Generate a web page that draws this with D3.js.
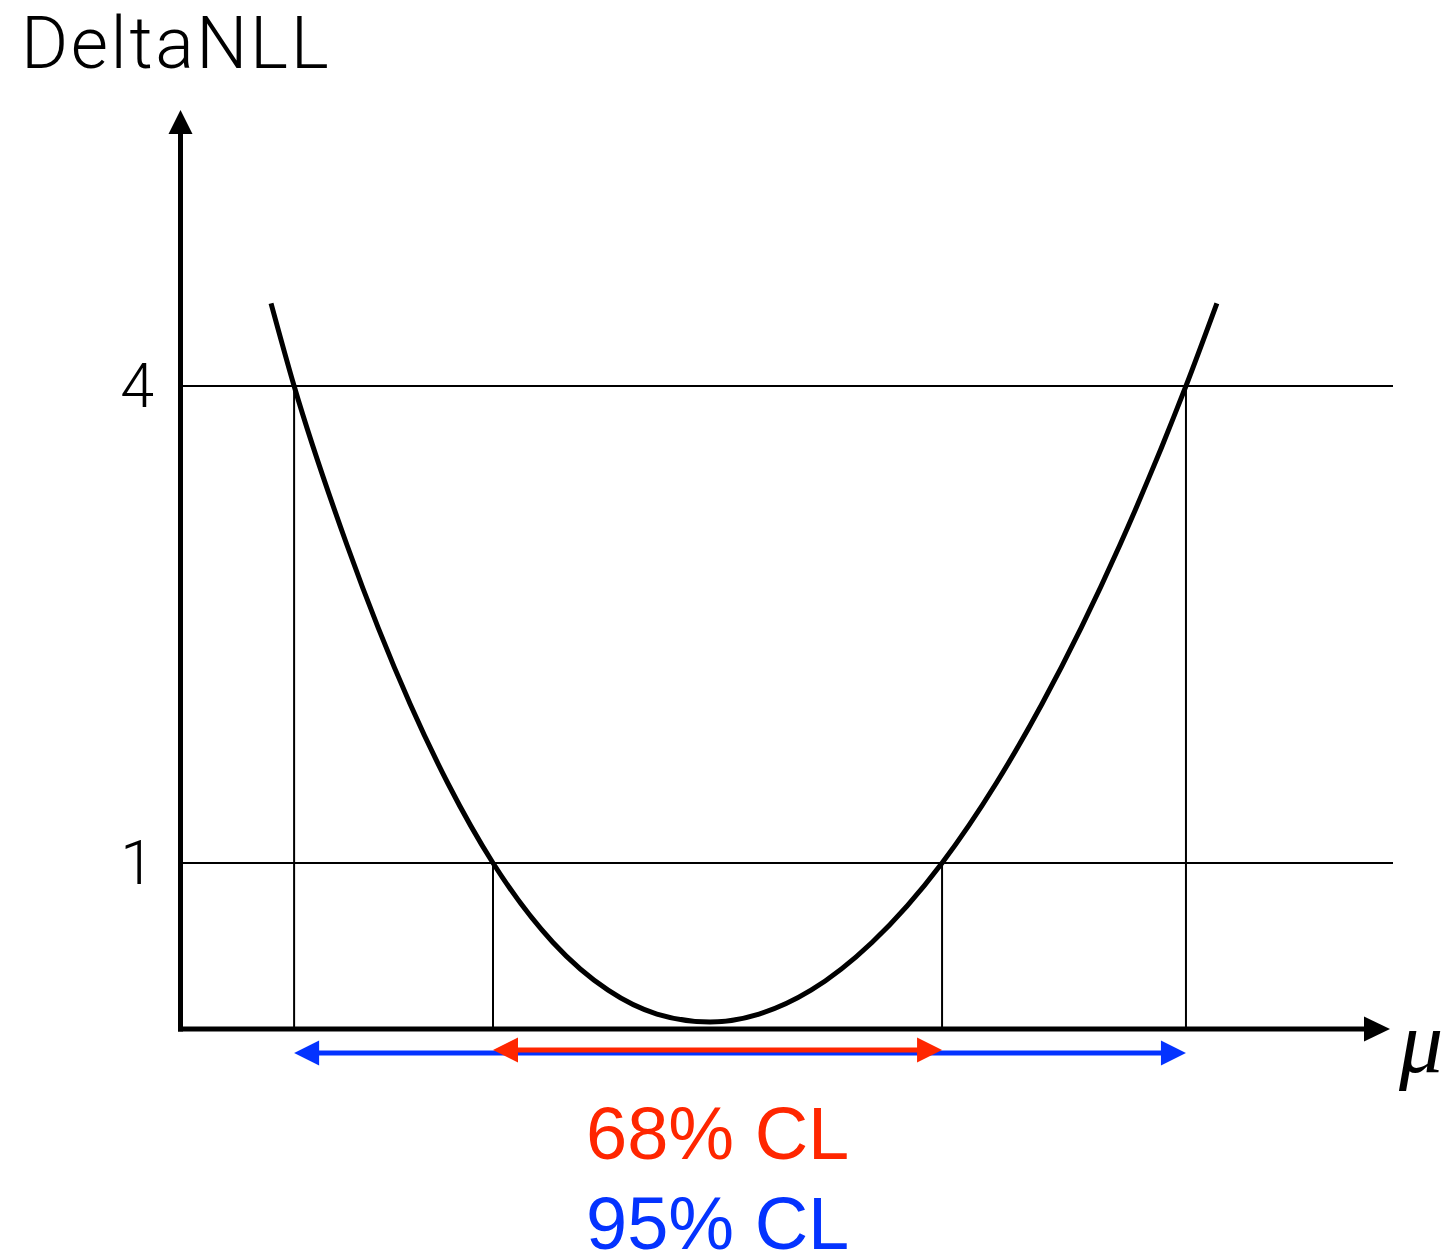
<!DOCTYPE html>
<html>
<head>
<meta charset="utf-8">
<script src="https://cdn.jsdelivr.net/npm/d3@7"></script>
<style>
  html, body { margin: 0; padding: 0; background: #fff; }
  svg { display: block; }
</style>
</head>
<body>
<svg id="chart" width="1441" height="1251"></svg>
<script>
// Likelihood scan: parameter value and DeltaNLL along the curve
const muValues  = [-1.960, -1.857, -1.621, -1.339, -1.170, -0.969, -0.701, -0.455, -0.237, 0.000,
                    0.219, 0.451, 0.723, 1.036, 1.277, 1.482, 1.830, 2.125, 2.263];
const nllValues = [4.52, 4.00, 3.00, 2.00, 1.50, 1.00, 0.50, 0.20, 0.05, 0.00,
                   0.05, 0.20, 0.50, 1.00, 1.50, 2.00, 3.00, 4.00, 4.52];

// Threshold levels and where the curve crosses them
const levels      = [1, 4];
const levelLabels = ["1", "4"];
const interval68  = [-0.969, 1.036];
const interval95  = [-1.857, 2.125];
const clLabels    = ["68% CL", "95% CL"];
const yTitle      = "DeltaNLL";
const xTitle      = "\u03BC";

const svg = d3.select("#chart");

const x = d3.scaleLinear().domain([-2.362, 3.036]).range([181, 1390]);
const y = d3.scaleLinear().domain([0, 4]).range([1022, 386]);

const axisY = 1029;          // x-axis sits a little below DeltaNLL = 0
const RED = "#ff2600", BLUE = "#0433ff";

// horizontal threshold lines
svg.selectAll("line.level").data(levels).join("line")
  .attr("class", "level")
  .attr("x1", x.range()[0]).attr("x2", 1393)
  .attr("y1", d => y(d)).attr("y2", d => y(d))
  .attr("stroke", "#000").attr("stroke-width", 2.2);

// vertical drop lines at the crossings
const crossings = [
  { mu: interval95[0], v: 4 }, { mu: interval68[0], v: 1 },
  { mu: interval68[1], v: 1 }, { mu: interval95[1], v: 4 }
];
svg.selectAll("line.drop").data(crossings).join("line")
  .attr("class", "drop")
  .attr("x1", d => x(d.mu)).attr("x2", d => x(d.mu))
  .attr("y1", d => y(d.v)).attr("y2", axisY)
  .attr("stroke", "#000").attr("stroke-width", 2);

// axes with arrow heads
svg.append("line")
  .attr("x1", 180.5).attr("x2", 180.5).attr("y1", axisY + 2.5).attr("y2", 130)
  .attr("stroke", "#000").attr("stroke-width", 5);
svg.append("path")
  .attr("d", `M180.5,110 L168.5,134 L192.5,134 Z`).attr("fill", "#000");
svg.append("line")
  .attr("x1", 178).attr("x2", 1368).attr("y1", axisY).attr("y2", axisY)
  .attr("stroke", "#000").attr("stroke-width", 5);
svg.append("path")
  .attr("d", `M1390,${axisY} L1364,${axisY - 12.5} L1364,${axisY + 12.5} Z`).attr("fill", "#000");

// the likelihood curve
const pts = muValues.map((m, i) => [m, nllValues[i]]);
const line = d3.line().x(d => x(d[0])).y(d => y(d[1])).curve(d3.curveMonotoneX);
svg.append("path")
  .datum(pts)
  .attr("d", line)
  .attr("fill", "none").attr("stroke", "#000").attr("stroke-width", 5)
  .attr("stroke-linecap", "butt");

// double-headed interval arrows
function intervalArrow(iv, yPos, color) {
  const x0 = x(iv[0]), x1 = x(iv[1]), L = 25, H = 12.5;
  const g = svg.append("g");
  g.append("line").attr("x1", x0 + L - 2).attr("x2", x1 - L + 2)
    .attr("y1", yPos).attr("y2", yPos).attr("stroke", color).attr("stroke-width", 5);
  g.append("path").attr("d", `M${x0},${yPos} L${x0 + L},${yPos - H} L${x0 + L},${yPos + H} Z`).attr("fill", color);
  g.append("path").attr("d", `M${x1},${yPos} L${x1 - L},${yPos - H} L${x1 - L},${yPos + H} Z`).attr("fill", color);
}
intervalArrow(interval95, 1053, BLUE);
intervalArrow(interval68, 1050, RED);

// texts
svg.append("text")
  .attr("x", 21).attr("y", 68)
  .attr("font-family", "Roboto, 'Liberation Sans', sans-serif")
  .attr("font-weight", 300).attr("font-size", 72)
  .attr("letter-spacing", 2.6)
  .text(yTitle);

svg.selectAll("text.tick").data(levels).join("text")
  .attr("class", "tick")
  .attr("x", 154).attr("y", d => y(d) + 21)
  .attr("text-anchor", "end")
  .attr("font-family", "Roboto, 'Liberation Sans', sans-serif")
  .attr("font-weight", 300).attr("font-size", 61)
  .text((d, i) => levelLabels[i]);

svg.append("text")
  .attr("x", 1399).attr("y", 1072)
  .attr("font-family", "'Liberation Serif', serif")
  .attr("font-style", "italic").attr("font-size", 88)
  .text(xTitle);

svg.selectAll("text.cl").data(clLabels).join("text")
  .attr("class", "cl")
  .attr("x", 586).attr("y", (d, i) => 1159 + i * 90)
  .attr("font-family", "'Liberation Sans', Arial, sans-serif")
  .attr("font-size", 74)
  .attr("fill", (d, i) => i === 0 ? RED : BLUE)
  .text(d => d);
</script>
</body>
</html>
